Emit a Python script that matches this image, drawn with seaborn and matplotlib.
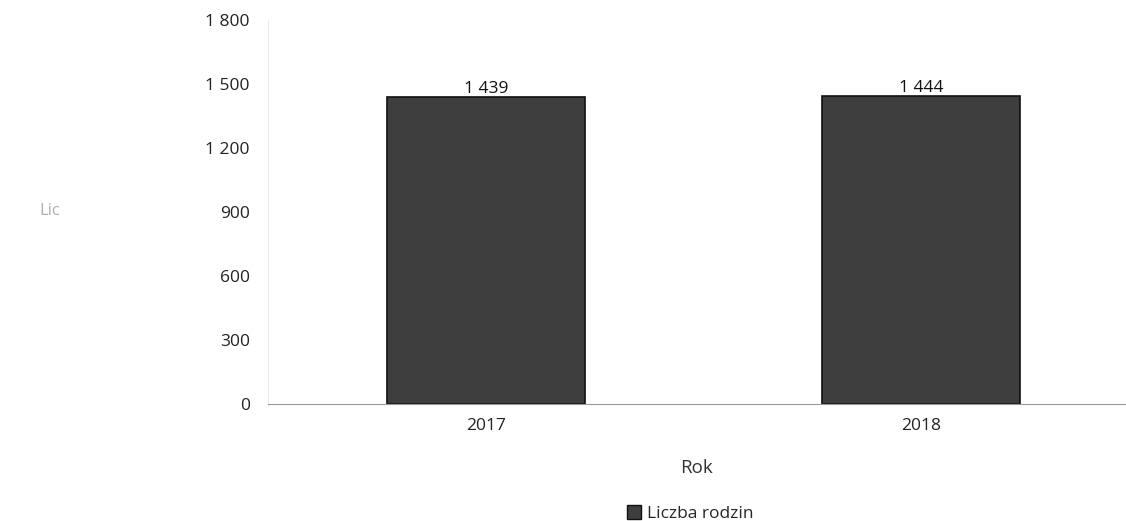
import matplotlib
matplotlib.use("Agg")
import matplotlib.pyplot as plt
import matplotlib.ticker as mticker
from matplotlib.patches import Patch
import seaborn as sns
import pandas as pd

# chart data
years = ["2017", "2018"]
families = [1439, 1444]
y_ticks = [0, 300, 600, 900, 1200, 1500, 1800]

sns.set_theme(style="white")
plt.rcParams["font.family"] = ["Open Sans", "DejaVu Sans"]

bar_color = "#3e3e3e"
df = pd.DataFrame({"Rok": years, "Liczba rodzin": families})

fig = plt.figure(figsize=(11.26, 5.21), dpi=100)
ax = fig.add_axes([0.238, 0.2246, 0.762, 0.7374])

sns.barplot(data=df, x="Rok", y="Liczba rodzin", ax=ax, color=bar_color,
            width=0.455, saturation=1, edgecolor="#111111", linewidth=1.2)

ax.set_xlim(-0.5, 1.47)
ax.set_ylim(0, 1800)
ax.set_yticks(y_ticks)


def space_thousands(v, _pos):
    return f"{int(v):,}".replace(",", " ")


ax.yaxis.set_major_formatter(mticker.FuncFormatter(space_thousands))
ax.tick_params(axis="both", length=0, labelsize=12.5, colors="#222222")
ax.tick_params(axis="y", pad=13)
ax.tick_params(axis="x", pad=10)

# value labels above bars
for cont in ax.containers:
    ax.bar_label(cont, labels=[space_thousands(v, None) for v in families],
                 fontsize=12.5, color="#111111", padding=0)

for side in ["top", "right"]:
    ax.spines[side].set_visible(False)
ax.spines["left"].set_color("#e4e4e4")
ax.spines["left"].set_linewidth(0.6)
ax.spines["bottom"].set_color("#9a9a9a")
ax.spines["bottom"].set_linewidth(0.8)

ax.set_xlabel("Rok", fontsize=13.5, color="#333333", labelpad=18)
ax.set_ylabel("")
fig.text(0.035, 0.595, "Lic", fontsize=12, color="#b0b0b0", va="center")

handles = [Patch(facecolor=bar_color, edgecolor="#111111", label="Liczba rodzin")]
fig.legend(handles=handles, loc="lower center", bbox_to_anchor=(0.613, -0.032),
           frameon=False, fontsize=12.5, handlelength=0.8, handleheight=0.8,
           handletextpad=0.3)

fig.savefig("out.png", dpi=100, facecolor="white")
